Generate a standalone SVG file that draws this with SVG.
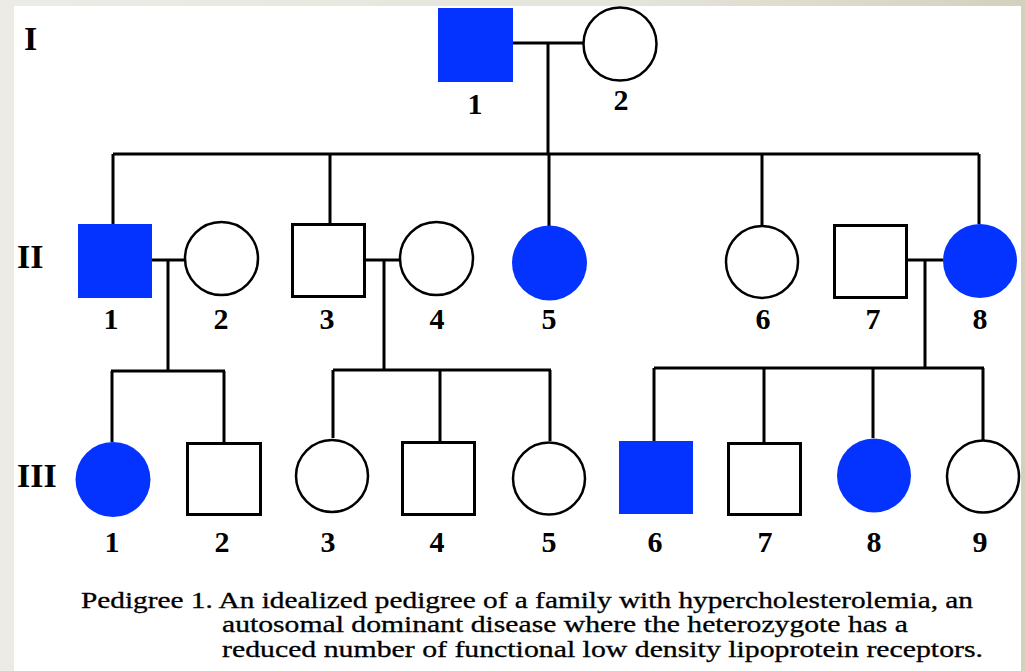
<svg xmlns="http://www.w3.org/2000/svg" width="1025" height="671" viewBox="0 0 1025 671">
<defs>
<linearGradient id="bg" x1="0" y1="0" x2="1" y2="0">
<stop offset="0" stop-color="#ECEBE5"/>
<stop offset="0.6" stop-color="#E6E5DB"/>
<stop offset="1" stop-color="#D3D1BD"/>
</linearGradient>
<style>
.ln{stroke:#000;stroke-width:3;fill:none}
.sq{fill:#fff;stroke:#000;stroke-width:3}
.ci{fill:#fff;stroke:#000;stroke-width:2.5}
.aff{fill:#0433FF;stroke:none}
.gen{font-family:"Liberation Serif",serif;font-weight:bold;font-size:34px;fill:#000}
.num{font-family:"Liberation Serif",serif;font-weight:bold;font-size:30px;fill:#000;text-anchor:middle}
.cap{font-family:"Liberation Serif",serif;font-size:23px;fill:#000;stroke:#000;stroke-width:0.3}
</style>
</defs>
<rect x="0" y="0" width="1025" height="671" fill="url(#bg)"/>
<rect x="14" y="6" width="1007" height="665" fill="#fff"/>

<g id="generation-labels">
<text class="gen" x="24" y="50">I</text>
<text class="gen" x="17" y="268">II</text>
<text class="gen" x="17" y="487">III</text>
</g>

<g id="connectors">
<path class="ln" d="M513 43H583M548 43V154M113 154H979M113 154V224M330 154V223M549 154V226M762 154V225M979 154V224"/>
<path class="ln" d="M152 260H184M168 260V371M111 371H225M112 371V442M224 371V442"/>
<path class="ln" d="M366 260H399M384 260V370M333 370H551M333 370V438M440 370V441M550 370V441"/>
<path class="ln" d="M908 260H943M925 260V368M654 368H984M654 368V441M764 368V442M873 368V438M983 368V440"/>
</g>

<g id="I-1"><rect class="aff" x="438" y="8" width="75" height="74"/><text class="num" x="475" y="114">1</text></g>
<g id="I-2"><circle class="ci" cx="620" cy="44" r="36.5"/><text class="num" x="621" y="110">2</text></g>

<g id="II-1"><rect class="aff" x="78" y="224" width="74" height="74"/><text class="num" x="111" y="329">1</text></g>
<g id="II-2"><circle class="ci" cx="221.5" cy="258.5" r="36.5"/><text class="num" x="221" y="329">2</text></g>
<g id="II-3"><rect class="sq" x="292.5" y="224.5" width="72" height="72"/><text class="num" x="327" y="329">3</text></g>
<g id="II-4"><circle class="ci" cx="436.5" cy="258.5" r="36.5"/><text class="num" x="437" y="329">4</text></g>
<g id="II-5"><circle class="aff" cx="549.5" cy="263" r="37.5"/><text class="num" x="549" y="329">5</text></g>
<g id="II-6"><circle class="ci" cx="762" cy="262" r="36"/><text class="num" x="763" y="329">6</text></g>
<g id="II-7"><rect class="sq" x="834.5" y="225.5" width="72" height="72"/><text class="num" x="873" y="329">7</text></g>
<g id="II-8"><circle class="aff" cx="980" cy="261" r="37"/><text class="num" x="980" y="329">8</text></g>

<g id="III-1"><circle class="aff" cx="113" cy="479.5" r="37.5"/><text class="num" x="112" y="552">1</text></g>
<g id="III-2"><rect class="sq" x="187.5" y="443.5" width="73" height="71"/><text class="num" x="222" y="552">2</text></g>
<g id="III-3"><circle class="ci" cx="332" cy="476" r="36"/><text class="num" x="328" y="552">3</text></g>
<g id="III-4"><rect class="sq" x="402.5" y="442.5" width="72" height="72"/><text class="num" x="437" y="552">4</text></g>
<g id="III-5"><circle class="ci" cx="549" cy="478.5" r="36"/><text class="num" x="549" y="552">5</text></g>
<g id="III-6"><rect class="aff" x="619" y="441" width="74" height="73"/><text class="num" x="655" y="552">6</text></g>
<g id="III-7"><rect class="sq" x="728.5" y="443.5" width="72" height="71"/><text class="num" x="765" y="552">7</text></g>
<g id="III-8"><circle class="aff" cx="874" cy="475.5" r="37"/><text class="num" x="874" y="552">8</text></g>
<g id="III-9"><circle class="ci" cx="983" cy="476.5" r="36"/><text class="num" x="980" y="552">9</text></g>

<g id="caption">
<text class="cap" x="81" y="608" textLength="892" lengthAdjust="spacingAndGlyphs">Pedigree 1. An idealized pedigree of a family with hypercholesterolemia, an</text>
<text class="cap" x="222" y="632" textLength="686" lengthAdjust="spacingAndGlyphs">autosomal dominant disease where the heterozygote has a</text>
<text class="cap" x="222" y="657" textLength="761" lengthAdjust="spacingAndGlyphs">reduced number of functional low density lipoprotein receptors.</text>
</g>
</svg>
